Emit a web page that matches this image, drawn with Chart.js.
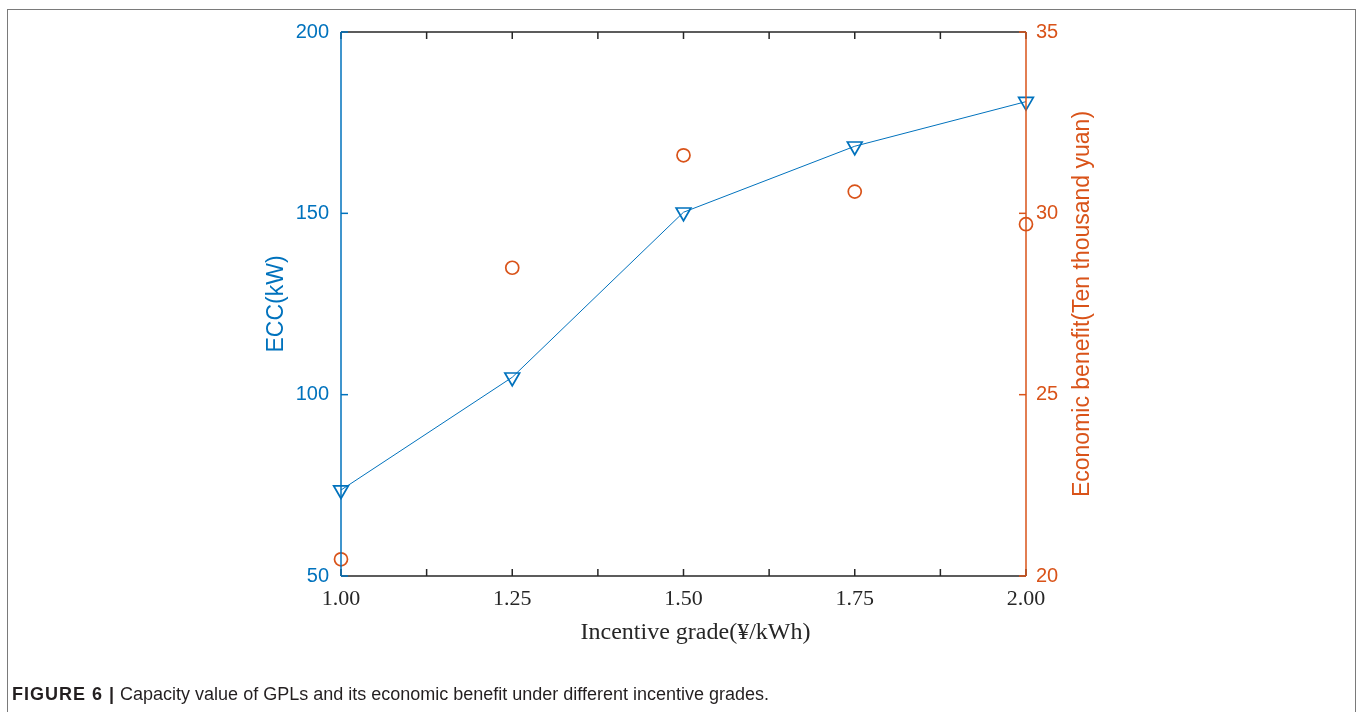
<!DOCTYPE html>
<html>
<head>
<meta charset="utf-8">
<script src="https://cdn.jsdelivr.net/npm/chart.js@4.4.0/dist/chart.umd.min.js"></script>
<style>
  html, body { margin: 0; padding: 0; background: #fff; }
  body { width: 1358px; height: 712px; position: relative; overflow: hidden; }
  #frame { position: absolute; left: 7px; top: 9px; width: 1347px; height: 760px;
           border: 1.5px solid #7a7a7a; border-bottom: none; }
  #wrap { position: absolute; left: 0; top: 0; width: 1358px; height: 712px; }
  #caption { position: absolute; left: 12px; top: 684px; white-space: nowrap;
             font-family: 'Liberation Sans', Arial, sans-serif; font-size: 18px; color: #231f20; }
  #caption b { letter-spacing: 1px; }
</style>
</head>
<body>
<div id="frame"></div>
<div id="wrap"><canvas id="chart"></canvas></div>
<div id="caption"><b>FIGURE 6 |</b> Capacity value of GPLs and its economic benefit under different incentive grades.</div>
<script>
// Data
const grades = [1.00, 1.25, 1.50, 1.75, 2.00];
const eccValues = [73.7, 104.8, 150.3, 168.5, 180.8];
const benefitValues = [20.46, 28.5, 31.6, 30.6, 29.7];

// Tick labels / marks
const gradeTicks = [1.00, 1.25, 1.50, 1.75, 2.00];
const gradeTickMarks = [1.00, 1.125, 1.25, 1.375, 1.50, 1.625, 1.75, 1.875, 2.00];
const eccTicks = [50, 100, 150, 200];
const benefitTicks = [20, 25, 30, 35];

const blue = '#0072BD';
const orange = '#D95319';
const axisGray = '#262626';
const tickLen = 7;

function setTicks(values) {
    return function(scale) {
        scale.ticks = values.map(v => ({ value: v }));
    };
}

// Box-style axes with inward ticks, drawn over the data like the original
const framePlugin = {
    id: 'frame',
    afterDatasetsDraw(chart) {
        const { ctx, chartArea: a, scales: { x, y, y1 } } = chart;
        const line = (x0, y0, x1, y1_) => {
            ctx.beginPath();
            ctx.moveTo(x0, y0);
            ctx.lineTo(x1, y1_);
            ctx.stroke();
        };
        ctx.save();
        ctx.lineWidth = 1.5;

        ctx.strokeStyle = axisGray;
        line(a.left, a.top, a.right, a.top);
        line(a.left, a.bottom, a.right, a.bottom);
        gradeTickMarks.forEach(v => {
            const px = x.getPixelForValue(v);
            line(px, a.top, px, a.top + tickLen);
            line(px, a.bottom, px, a.bottom - tickLen);
        });

        ctx.strokeStyle = blue;
        line(a.left, a.top, a.left, a.bottom);
        eccTicks.forEach(v => {
            const py = y.getPixelForValue(v);
            line(a.left, py, a.left + tickLen, py);
        });

        ctx.strokeStyle = orange;
        line(a.right, a.top, a.right, a.bottom);
        benefitTicks.forEach(v => {
            const py = y1.getPixelForValue(v);
            line(a.right, py, a.right - tickLen, py);
        });

        ctx.textAlign = 'center';
        ctx.textBaseline = 'middle';

        // x title sits a little right of centre in the original
        ctx.fillStyle = axisGray;
        ctx.font = '24px "Liberation Serif", "Times New Roman", serif';
        ctx.fillText('Incentive grade(¥/kWh)', (a.left + a.right) / 2 + 12, 633);

        // right axis title reads bottom-to-top
        ctx.fillStyle = orange;
        ctx.font = '23px "Liberation Sans", Arial, sans-serif';
        ctx.translate(1083, (a.top + a.bottom) / 2);
        ctx.rotate(-Math.PI / 2);
        ctx.fillText('Economic benefit(Ten thousand yuan)', 0, 0);
        ctx.restore();
    }
};

new Chart(document.getElementById('chart'), {
    type: 'scatter',
    data: {
        datasets: [
            {
                label: 'ECC',
                data: grades.map((g, i) => ({ x: g, y: eccValues[i] })),
                yAxisID: 'y',
                showLine: true,
                borderColor: blue,
                borderWidth: 1,
                pointStyle: 'triangle',
                rotation: 180,
                pointRadius: 8.5,
                pointBorderWidth: 1.7,
                pointBorderColor: blue,
                pointBackgroundColor: 'rgba(0,0,0,0)',
                clip: false
            },
            {
                label: 'Economic benefit',
                data: grades.map((g, i) => ({ x: g, y: benefitValues[i] })),
                yAxisID: 'y1',
                showLine: false,
                pointStyle: 'circle',
                pointRadius: 6.5,
                pointBorderWidth: 1.7,
                pointBorderColor: orange,
                pointBackgroundColor: 'rgba(0,0,0,0)',
                clip: false
            }
        ]
    },
    options: {
        responsive: true,
        maintainAspectRatio: false,
        animation: false,
        layout: {
            padding: { left: 255, right: 272, top: 32, bottom: 56 }
        },
        plugins: {
            legend: { display: false },
            tooltip: { enabled: false }
        },
        scales: {
            x: {
                type: 'linear',
                position: 'bottom',
                min: 1,
                max: 2,
                afterBuildTicks: setTicks(gradeTicks),
                afterFit: s => { s.height = 80; },
                grid: { display: false },
                border: { display: false },
                ticks: {
                    color: axisGray,
                    padding: 2,
                    maxRotation: 0,
                    font: { family: '"Liberation Serif", "Times New Roman", serif', size: 22 },
                    callback: v => v.toFixed(2)
                }
            },
            y: {
                type: 'linear',
                position: 'left',
                min: 50,
                max: 200,
                afterBuildTicks: setTicks(eccTicks),
                afterFit: s => { s.width = 86; },
                grid: { display: false },
                border: { display: false },
                ticks: {
                    color: blue,
                    padding: 4,
                    font: { family: '"Liberation Sans", Arial, sans-serif', size: 20 }
                },
                title: {
                    display: true,
                    text: 'ECC(kW)',
                    color: blue,
                    padding: { top: 8, bottom: 0 },
                    font: { family: '"Liberation Sans", Arial, sans-serif', size: 23 }
                }
            },
            y1: {
                type: 'linear',
                position: 'right',
                min: 20,
                max: 35,
                afterBuildTicks: setTicks(benefitTicks),
                afterFit: s => { s.width = 60; },
                grid: { display: false },
                border: { display: false },
                ticks: {
                    color: orange,
                    padding: 2,
                    font: { family: '"Liberation Sans", Arial, sans-serif', size: 20 }
                }
            }
        }
    },
    plugins: [framePlugin]
});
</script>
</body>
</html>
